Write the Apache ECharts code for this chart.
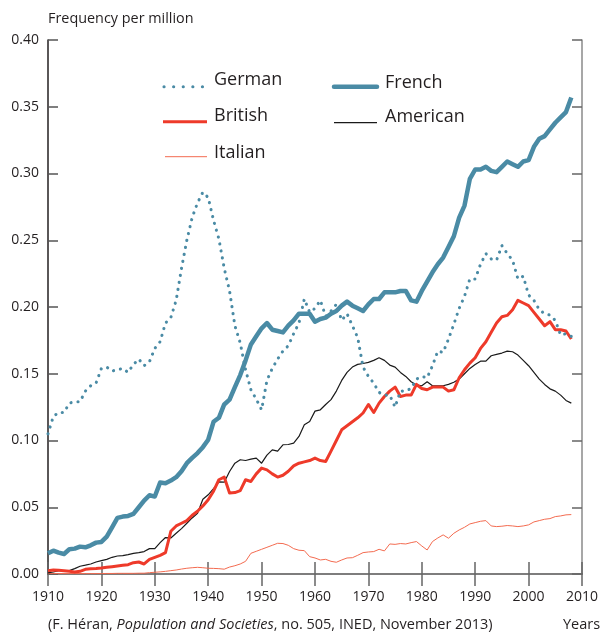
<!DOCTYPE html>
<html>
<head>
<meta charset="utf-8">
<script src="https://cdn.jsdelivr.net/npm/echarts@6/dist/echarts.min.js"></script>
<style>
html,body{margin:0;padding:0;background:#fff;}
#chart{width:601px;height:632px;}
</style>
</head>
<body>
<div id="chart"></div>
<script>
const years = [1910,1911,1912,1913,1914,1915,1916,1917,1918,1919,
1920,1921,1922,1923,1924,1925,1926,1927,1928,1929,
1930,1931,1932,1933,1934,1935,1936,1937,1938,1939,
1940,1941,1942,1943,1944,1945,1946,1947,1948,1949,
1950,1951,1952,1953,1954,1955,1956,1957,1958,1959,
1960,1961,1962,1963,1964,1965,1966,1967,1968,1969,
1970,1971,1972,1973,1974,1975,1976,1977,1978,1979,
1980,1981,1982,1983,1984,1985,1986,1987,1988,1989,
1990,1991,1992,1993,1994,1995,1996,1997,1998,1999,
2000,2001,2002,2003,2004,2005,2006,2007,2008];

const german = [0.105,0.118,0.121,0.121,0.128,0.129,0.129,0.137,0.141,0.143,
0.154,0.155,0.152,0.153,0.154,0.151,0.157,0.161,0.156,0.159,
0.169,0.174,0.188,0.192,0.205,0.229,0.250,0.267,0.278,0.286,
0.282,0.265,0.251,0.229,0.212,0.186,0.173,0.153,0.138,0.131,
0.123,0.145,0.154,0.161,0.167,0.171,0.180,0.188,0.206,0.196,
0.199,0.205,0.193,0.197,0.202,0.190,0.195,0.186,0.177,0.155,
0.148,0.143,0.136,0.134,0.134,0.125,0.137,0.137,0.139,0.146,
0.148,0.147,0.156,0.167,0.166,0.176,0.187,0.199,0.208,0.221,
0.221,0.232,0.240,0.236,0.235,0.246,0.240,0.235,0.221,0.223,
0.209,0.205,0.198,0.195,0.194,0.190,0.179,0.180,0.178];

const french = [0.0155,0.0175,0.016,0.015,0.0185,0.019,0.0205,0.020,0.0215,0.0235,
0.024,0.028,0.035,0.042,0.043,0.0435,0.045,0.050,0.055,0.059,
0.058,0.0685,0.068,0.070,0.0725,0.077,0.083,0.087,0.0906,0.095,
0.1006,0.114,0.117,0.127,0.1306,0.140,0.149,0.160,0.172,0.178,
0.184,0.188,0.183,0.182,0.181,0.186,0.190,0.195,0.195,0.195,
0.189,0.191,0.192,0.195,0.197,0.201,0.204,0.201,0.199,0.197,
0.202,0.206,0.206,0.211,0.211,0.211,0.212,0.212,0.205,0.204,
0.212,0.219,0.226,0.232,0.237,0.245,0.253,0.267,0.276,0.296,
0.303,0.303,0.305,0.302,0.301,0.305,0.309,0.307,0.305,0.309,
0.310,0.320,0.326,0.328,0.333,0.338,0.342,0.346,0.357];

const british = [0.0025,0.003,0.0028,0.0025,0.002,0.0015,0.002,0.0035,0.004,0.0042,
0.0045,0.005,0.0055,0.006,0.0065,0.007,0.0085,0.009,0.0075,0.011,
0.0125,0.014,0.016,0.032,0.036,0.038,0.040,0.044,0.047,0.051,
0.0556,0.062,0.0706,0.0726,0.0606,0.061,0.0625,0.0706,0.0693,0.075,
0.0793,0.078,0.075,0.0726,0.074,0.077,0.081,0.083,0.084,0.085,
0.0868,0.085,0.0843,0.092,0.100,0.108,0.111,0.114,0.117,0.1206,
0.127,0.121,0.128,0.133,0.137,0.140,0.133,0.134,0.134,0.142,
0.139,0.138,0.140,0.140,0.140,0.137,0.138,0.147,0.153,0.158,
0.162,0.169,0.174,0.181,0.188,0.1927,0.1937,0.198,0.205,0.203,
0.201,0.196,0.191,0.186,0.189,0.183,0.183,0.182,0.176];

const american = [0.0008,0.0015,0.0025,0.0025,0.0025,0.004,0.0058,0.0066,0.0075,0.009,
0.010,0.011,0.0125,0.0135,0.0137,0.0145,0.0155,0.016,0.0168,0.019,
0.019,0.0235,0.0273,0.027,0.0305,0.034,0.038,0.042,0.0455,0.056,
0.0593,0.064,0.069,0.0688,0.0768,0.083,0.0856,0.085,0.086,0.0868,
0.083,0.089,0.093,0.092,0.0968,0.097,0.098,0.103,0.1118,0.1143,
0.122,0.123,0.127,0.1306,0.137,0.145,0.151,0.155,0.157,0.1577,
0.1585,0.160,0.162,0.160,0.1565,0.155,0.151,0.148,0.144,0.1416,
0.141,0.144,0.141,0.141,0.141,0.142,0.1436,0.146,0.150,0.154,
0.157,0.1594,0.1594,0.1635,0.1645,0.1655,0.1669,0.1665,0.164,0.160,
0.156,0.151,0.146,0.142,0.1387,0.137,0.134,0.130,0.128];

const italian = [0.0003,0.0003,0.0003,0.0003,0.0003,0.0003,0.0003,0.0003,0.0003,0.0003,
0.0003,0.0004,0.0004,0.0005,0.0005,0.0005,0.0005,0.0006,0.0006,0.001,
0.0013,0.0016,0.002,0.0025,0.003,0.0037,0.0043,0.0047,0.005,0.0047,
0.0043,0.0042,0.004,0.0036,0.0052,0.0062,0.0075,0.0095,0.0155,0.017,
0.0185,0.020,0.0215,0.023,0.0228,0.0215,0.019,0.0178,0.0175,0.013,
0.012,0.0105,0.011,0.0095,0.0088,0.0105,0.012,0.0122,0.014,0.016,
0.0165,0.0168,0.0185,0.0173,0.0225,0.0222,0.0228,0.0225,0.0235,0.0243,
0.021,0.018,0.0243,0.027,0.0293,0.0268,0.0305,0.033,0.035,0.0375,
0.0385,0.0395,0.040,0.036,0.0355,0.0358,0.0363,0.036,0.0355,0.036,
0.0368,0.039,0.040,0.041,0.0415,0.043,0.0435,0.0443,0.0445];

const yTicks = {min:0, max:0.4, step:0.05};
const xTicks = {min:1910, max:2010, step:10};
const yTitle = 'Frequency per million';
const sourceNote = '(F. Héran, {i|Population and Societies}, no. 505, INED, November 2013)';
const xName = 'Years';

const FONT = '"Open Sans", "Noto Sans", sans-serif';
const BLUE = '#4a8ba5';
const RED = '#ee3a2a';
const ORANGE = '#f36b50';
const BLACK = '#1a1a1a';
const TXT = '#231f20';

function pairs(vals){ return years.map((y,i)=>[y, vals[i]]); }

const styles = {
  German:   {stroke:BLUE, lineWidth:3.1, lineDash:[0.1, 7], lineCap:'round'},
  British:  {stroke:RED, lineWidth:3},
  Italian:  {stroke:ORANGE, lineWidth:1},
  French:   {stroke:BLUE, lineWidth:4.5, lineCap:'round'},
  American: {stroke:BLACK, lineWidth:1.2}
};

// legend (drawn as graphic to match the original layout)
const legendItems = [
  {name:'German',   lx:164, ly:86.7, tx:214, ty:80,  len:39, dash:[0.1, 9.5]},
  {name:'British',  lx:163, ly:121.7, tx:214, ty:116, len:44},
  {name:'Italian',  lx:165, ly:156.7, tx:214, ty:153, len:42},
  {name:'French',   lx:334, ly:86.7, tx:385, ty:83,  len:43},
  {name:'American', lx:334, ly:122.7, tx:385, ty:117, len:43}
];
const legendGraphics = [];
legendItems.forEach(it => {
  const st = Object.assign({}, styles[it.name]);
  if (it.dash) st.lineDash = it.dash;
  legendGraphics.push({type:'line', shape:{x1:it.lx, y1:it.ly, x2:it.lx+it.len, y2:it.ly}, style:st, silent:true});
  legendGraphics.push({type:'text', x:it.tx, y:it.ty, style:{text:it.name, fill:TXT, font:'18px '+FONT, verticalAlign:'middle'}, silent:true});
});

function seriesOf(name, vals, z){
  const s = styles[name];
  const ls = {color:s.stroke, width:s.lineWidth, join:'round'};
  if (s.lineDash) { ls.type = s.lineDash; ls.cap = 'round'; }
  return {name, type:'line', data:pairs(vals), symbol:'none', showSymbol:false, z, lineStyle:ls, itemStyle:{color:s.stroke}};
}

const chart = echarts.init(document.getElementById('chart'), null, {renderer:'canvas'});

const option = {
  animation: false,
  backgroundColor: '#fff',
  textStyle: {fontFamily: FONT},
  grid: {left: 48, right: 18, top: 40, bottom: 58, containLabel: false},
  xAxis: [
    {type:'value', position:'bottom', min:xTicks.min, max:xTicks.max, interval:xTicks.step,
     axisLine:{show:true, lineStyle:{color:TXT, width:1.5}},
     axisTick:{show:true, inside:true, length:12, lineStyle:{color:'#666', width:1.5}},
     axisLabel:{color:TXT, fontSize:14, fontFamily:FONT, margin:16, formatter: v => String(v)},
     splitLine:{show:false}},
    {type:'value', position:'top', min:xTicks.min, max:xTicks.max, interval:xTicks.step,
     axisLine:{show:true, lineStyle:{color:'#8a8a8a', width:1.5}},
     axisTick:{show:true, inside:true, length:12, lineStyle:{color:'#666', width:1.5}},
     axisLabel:{show:false}, splitLine:{show:false}}
  ],
  yAxis: [
    {type:'value', position:'left', min:yTicks.min, max:yTicks.max, interval:yTicks.step,
     name: yTitle, nameLocation:'end', nameGap:21,
     nameTextStyle:{align:'left', verticalAlign:'middle', color:TXT, fontSize:14.4, fontFamily:FONT},
     axisLine:{show:true, lineStyle:{color:TXT, width:1.5}},
     axisTick:{show:true, inside:true, length:10, lineStyle:{color:'#555', width:1.5}},
     axisLabel:{color:TXT, fontSize:14, fontFamily:FONT, margin:9, formatter: v => v.toFixed(2)},
     splitLine:{show:false}},
    {type:'value', position:'right', min:yTicks.min, max:yTicks.max, interval:yTicks.step,
     axisLine:{show:true, lineStyle:{color:'#8a8a8a', width:1.5}},
     axisTick:{show:true, inside:true, length:10, lineStyle:{color:'#666', width:1.5}},
     axisLabel:{show:false}, splitLine:{show:false}}
  ],
  series: [
    seriesOf('Italian', italian, 2),
    seriesOf('American', american, 3),
    seriesOf('British', british, 4),
    seriesOf('French', french, 5),
    seriesOf('German', german, 6)
  ],
  graphic: [
    {type:'text', x:48, y:625, style:{text:sourceNote, fill:TXT, font:'14.5px '+FONT, verticalAlign:'middle',
      rich:{i:{fontStyle:'italic', fontSize:14.5, fontFamily:FONT, fill:TXT}}}},
    {type:'text', x:563, y:625, style:{text:xName, fill:TXT, font:'14.5px '+FONT, verticalAlign:'middle'}}
  ].concat(legendGraphics)
};
chart.setOption(option);
</script>
</body>
</html>
